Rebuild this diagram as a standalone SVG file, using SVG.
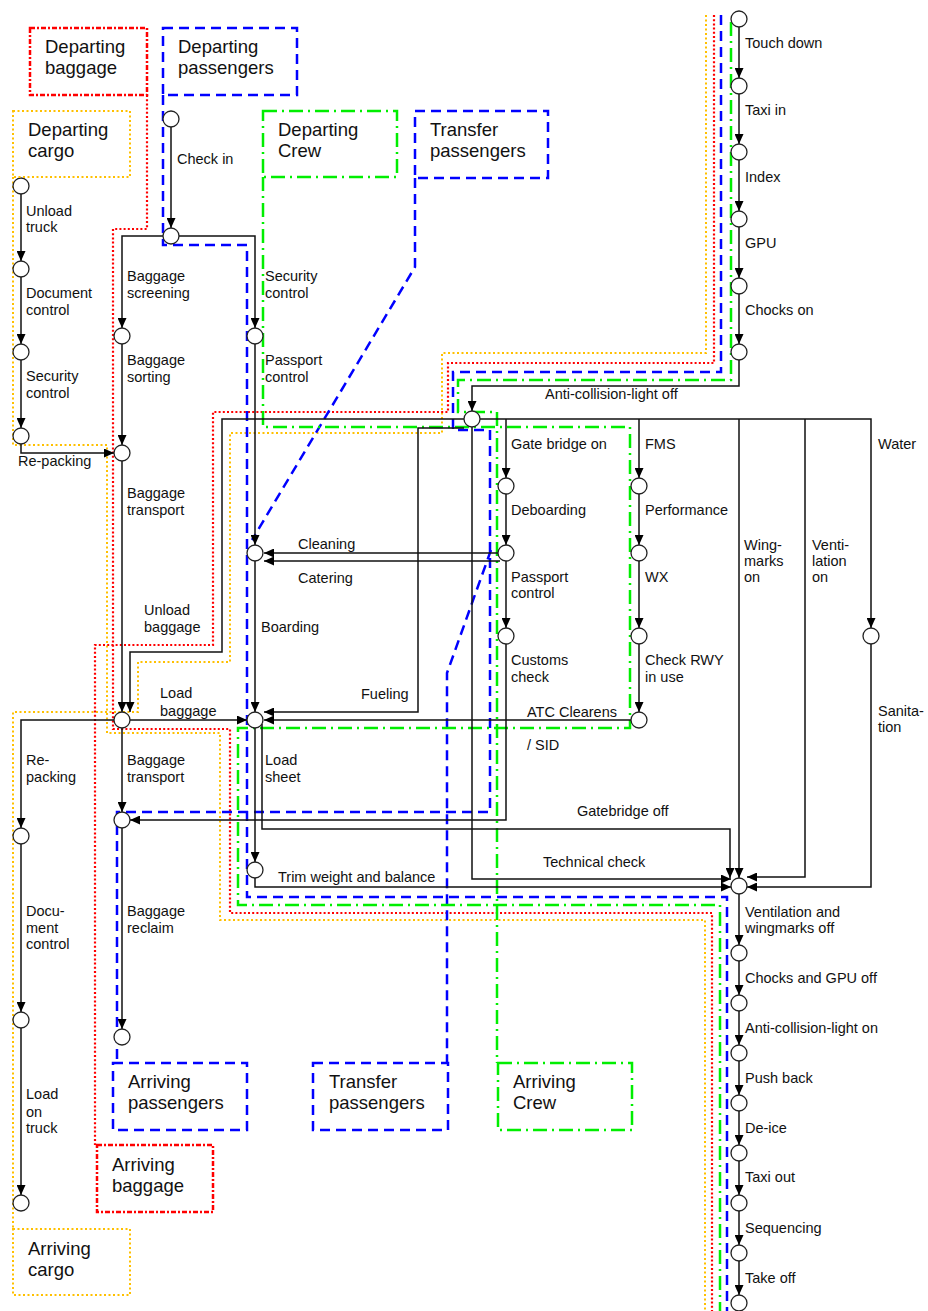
<svg xmlns="http://www.w3.org/2000/svg" width="928" height="1311" viewBox="0 0 928 1311">
<style>
.ln{fill:none;stroke:#111;stroke-width:1.5}
.lbl{font-family:"Liberation Sans",Arial,sans-serif;font-size:14.5px;fill:#111}
.bt{font-family:"Liberation Sans",Arial,sans-serif;font-size:18.5px;fill:#111}
.red{fill:none;stroke:#ff0000;stroke-width:2.2;stroke-dasharray:2 2.2}
.redbox{fill:none;stroke:#ff0000;stroke-width:2.5;stroke-dasharray:5 2 2 2}
.blue{fill:none;stroke:#0000ff;stroke-width:2.5;stroke-dasharray:10 6}
.green{fill:none;stroke:#00ee00;stroke-width:2.5;stroke-dasharray:14 5 2 5}
.orange{fill:none;stroke:#ffc000;stroke-width:2;stroke-dasharray:2 2.5}
.nd{fill:#fff;stroke:#222;stroke-width:1.3}
</style>
<defs>
<marker id="ah" viewBox="0 0 10 9" refX="10" refY="4.5" markerWidth="10" markerHeight="9" markerUnits="userSpaceOnUse" orient="auto"><path d="M0,0L10,4.5L0,9z" fill="#000"/></marker>
</defs>
<rect width="928" height="1311" fill="#fff"/>

<g id="lanes">
<path class="orange" d="M13,177 V445 H107 V733 H220 V920 H705 V1311"/>
<path class="orange" d="M706,15 V353 H442 V433 H230 V662 H138 V712 H13 V1229"/>
<path class="red" d="M147,95 V229 H113 V729 H230 V913 H712 V1311"/>
<path class="red" d="M714,15 V363 H448 V412 H213 V645 H95 V1145"/>
<path class="blue" d="M163,95 V245 H247 V897 H727 V1311"/>
<path class="blue" d="M721,15 V372 H453 V430 H490 V812 H117 V1063"/>
<path class="blue" d="M415,178 V267 L252,540"/>
<path class="blue" d="M491,550 L447,673 V1063"/>
<path class="green" d="M263,177 V427 H630 V728 H238 V905 H720 V1311"/>
<path class="green" d="M731,22 V380 H458 V412 H497 V1063"/>
</g>

<g id="connectors">
<path class="ln" marker-end="url(#ah)" d="M739,27 V78"/>
<path class="ln" marker-end="url(#ah)" d="M739,94 V144"/>
<path class="ln" marker-end="url(#ah)" d="M739,160 V211"/>
<path class="ln" marker-end="url(#ah)" d="M739,227 V278"/>
<path class="ln" marker-end="url(#ah)" d="M739,294 V344"/>
<path class="ln" marker-end="url(#ah)" d="M739,360 V386 H472 V411"/>
<path class="ln" marker-end="url(#ah)" d="M480,419 H871 V628"/>
<path class="ln" marker-end="url(#ah)" d="M506,419 V478"/>
<path class="ln" marker-end="url(#ah)" d="M639,419 V478"/>
<path class="ln" marker-end="url(#ah)" d="M739,419 V878"/>
<path class="ln" marker-end="url(#ah)" d="M805,419 V877 H747"/>
<path class="ln" marker-end="url(#ah)" d="M871,644 V887 H747"/>
<path class="ln" marker-end="url(#ah)" d="M506,494 V545"/>
<path class="ln" marker-end="url(#ah)" d="M506,561 V628"/>
<path class="ln" marker-end="url(#ah)" d="M498,553 H264"/>
<path class="ln" marker-end="url(#ah)" d="M500,561 H264"/>
<path class="ln" marker-end="url(#ah)" d="M506,644 V820 H130"/>
<path class="ln" marker-end="url(#ah)" d="M639,494 V545"/>
<path class="ln" marker-end="url(#ah)" d="M639,561 V628"/>
<path class="ln" marker-end="url(#ah)" d="M639,644 V712"/>
<path class="ln" marker-end="url(#ah)" d="M631,720 H264"/>
<path class="ln" marker-end="url(#ah)" d="M464,428 H418 V712 H264"/>
<path class="ln" marker-end="url(#ah)" d="M464,419 H222 V652 H130 V712"/>
<path class="ln" marker-end="url(#ah)" d="M472,427 V879 H731"/>
<path class="ln" marker-end="url(#ah)" d="M262,724 V829 H730 V878"/>
<path class="ln" marker-end="url(#ah)" d="M255,728 V862"/>
<path class="ln" marker-end="url(#ah)" d="M255,878 V887 H731"/>
<path class="ln" marker-end="url(#ah)" d="M130,720 H247"/>
<path class="ln" marker-end="url(#ah)" d="M114,720 H21 V828"/>
<path class="ln" marker-end="url(#ah)" d="M122,728 V812"/>
<path class="ln" marker-end="url(#ah)" d="M122,828 V1029"/>
<path class="ln" marker-end="url(#ah)" d="M21,844 V1012"/>
<path class="ln" marker-end="url(#ah)" d="M21,1028 V1195"/>
<path class="ln" marker-end="url(#ah)" d="M21,194 V261"/>
<path class="ln" marker-end="url(#ah)" d="M21,277 V344"/>
<path class="ln" marker-end="url(#ah)" d="M21,360 V428"/>
<path class="ln" marker-end="url(#ah)" d="M21,444 V453 H114"/>
<path class="ln" marker-end="url(#ah)" d="M122,344 V445"/>
<path class="ln" marker-end="url(#ah)" d="M122,461 V712"/>
<path class="ln" marker-end="url(#ah)" d="M171,127 V228"/>
<path class="ln" marker-end="url(#ah)" d="M163,236 H122 V328"/>
<path class="ln" marker-end="url(#ah)" d="M179,236 H255 V328"/>
<path class="ln" marker-end="url(#ah)" d="M255,344 V545"/>
<path class="ln" marker-end="url(#ah)" d="M255,561 V712"/>
<path class="ln" marker-end="url(#ah)" d="M739,894 V945"/>
<path class="ln" marker-end="url(#ah)" d="M739,961 V995"/>
<path class="ln" marker-end="url(#ah)" d="M739,1011 V1045"/>
<path class="ln" marker-end="url(#ah)" d="M739,1061 V1095"/>
<path class="ln" marker-end="url(#ah)" d="M739,1111 V1145"/>
<path class="ln" marker-end="url(#ah)" d="M739,1161 V1195"/>
<path class="ln" marker-end="url(#ah)" d="M739,1211 V1245"/>
<path class="ln" marker-end="url(#ah)" d="M739,1261 V1295"/>
</g>

<g id="nodes">
<g id="n-c1"><circle class="nd" cx="21" cy="186" r="8"/></g>
<g id="n-c2"><circle class="nd" cx="21" cy="269" r="8"/></g>
<g id="n-c3"><circle class="nd" cx="21" cy="352" r="8"/></g>
<g id="n-c4"><circle class="nd" cx="21" cy="436" r="8"/></g>
<g id="n-c5"><circle class="nd" cx="21" cy="836" r="8"/></g>
<g id="n-c6"><circle class="nd" cx="21" cy="1020" r="8"/></g>
<g id="n-c7"><circle class="nd" cx="21" cy="1203" r="8"/></g>
<g id="n-b1"><circle class="nd" cx="122" cy="336" r="8"/></g>
<g id="n-b2"><circle class="nd" cx="122" cy="453" r="8"/></g>
<g id="n-b3"><circle class="nd" cx="122" cy="720" r="8"/></g>
<g id="n-b4"><circle class="nd" cx="122" cy="820" r="8"/></g>
<g id="n-b5"><circle class="nd" cx="122" cy="1037" r="8"/></g>
<g id="n-p0"><circle class="nd" cx="171" cy="119" r="8"/></g>
<g id="n-p1"><circle class="nd" cx="171" cy="236" r="8"/></g>
<g id="n-p2"><circle class="nd" cx="255" cy="336" r="8"/></g>
<g id="n-p3"><circle class="nd" cx="255" cy="553" r="8"/></g>
<g id="n-p4"><circle class="nd" cx="255" cy="720" r="8"/></g>
<g id="n-p5"><circle class="nd" cx="255" cy="870" r="8"/></g>
<g id="n-r1"><circle class="nd" cx="739" cy="19" r="8"/></g>
<g id="n-r2"><circle class="nd" cx="739" cy="86" r="8"/></g>
<g id="n-r3"><circle class="nd" cx="739" cy="152" r="8"/></g>
<g id="n-r4"><circle class="nd" cx="739" cy="219" r="8"/></g>
<g id="n-r5"><circle class="nd" cx="739" cy="286" r="8"/></g>
<g id="n-r6"><circle class="nd" cx="739" cy="352" r="8"/></g>
<g id="n-hub"><circle class="nd" cx="472" cy="419" r="8"/></g>
<g id="n-g1"><circle class="nd" cx="506" cy="486" r="8"/></g>
<g id="n-g2"><circle class="nd" cx="506" cy="553" r="8"/></g>
<g id="n-g3"><circle class="nd" cx="506" cy="636" r="8"/></g>
<g id="n-f1"><circle class="nd" cx="639" cy="486" r="8"/></g>
<g id="n-f2"><circle class="nd" cx="639" cy="553" r="8"/></g>
<g id="n-f3"><circle class="nd" cx="639" cy="636" r="8"/></g>
<g id="n-f4"><circle class="nd" cx="639" cy="720" r="8"/></g>
<g id="n-w1"><circle class="nd" cx="871" cy="636" r="8"/></g>
<g id="n-final"><circle class="nd" cx="739" cy="886" r="8"/></g>
<g id="n-d1"><circle class="nd" cx="739" cy="953" r="8"/></g>
<g id="n-d2"><circle class="nd" cx="739" cy="1003" r="8"/></g>
<g id="n-d3"><circle class="nd" cx="739" cy="1053" r="8"/></g>
<g id="n-d4"><circle class="nd" cx="739" cy="1103" r="8"/></g>
<g id="n-d5"><circle class="nd" cx="739" cy="1153" r="8"/></g>
<g id="n-d6"><circle class="nd" cx="739" cy="1203" r="8"/></g>
<g id="n-d7"><circle class="nd" cx="739" cy="1253" r="8"/></g>
<g id="n-d8"><circle class="nd" cx="739" cy="1303" r="8"/></g>
</g>

<g id="boxes">
<g id="box-dep-baggage"><rect class="redbox" x="30" y="28" width="117" height="67"/><text class="bt" x="45" y="53">Departing</text><text class="bt" x="45" y="74">baggage</text></g>
<g id="box-dep-pax"><rect class="blue" x="163" y="28" width="134" height="67"/><text class="bt" x="178" y="53">Departing</text><text class="bt" x="178" y="74">passengers</text></g>
<g id="box-dep-cargo"><rect class="orange" x="13" y="111" width="117" height="66"/><text class="bt" x="28" y="136">Departing</text><text class="bt" x="28" y="157">cargo</text></g>
<g id="box-dep-crew"><rect class="green" x="263" y="111" width="134" height="66"/><text class="bt" x="278" y="136">Departing</text><text class="bt" x="278" y="157">Crew</text></g>
<g id="box-transfer-top"><rect class="blue" x="415" y="111" width="133" height="67"/><text class="bt" x="430" y="136">Transfer</text><text class="bt" x="430" y="157">passengers</text></g>
<g id="box-arr-pax"><rect class="blue" x="113" y="1063" width="134" height="67"/><text class="bt" x="128" y="1088">Arriving</text><text class="bt" x="128" y="1109">passengers</text></g>
<g id="box-transfer-bottom"><rect class="blue" x="313" y="1063" width="135" height="67"/><text class="bt" x="329" y="1088">Transfer</text><text class="bt" x="329" y="1109">passengers</text></g>
<g id="box-arr-crew"><rect class="green" x="498" y="1063" width="134" height="67"/><text class="bt" x="513" y="1088">Arriving</text><text class="bt" x="513" y="1109">Crew</text></g>
<g id="box-arr-baggage"><rect class="redbox" x="97" y="1145" width="116" height="67"/><text class="bt" x="112" y="1171">Arriving</text><text class="bt" x="112" y="1192">baggage</text></g>
<g id="box-arr-cargo"><rect class="orange" x="13" y="1229" width="117" height="66"/><text class="bt" x="28" y="1255">Arriving</text><text class="bt" x="28" y="1276">cargo</text></g>
</g>

<g id="labels" class="lbl">
<text class="lbl" x="26" y="216">Unload</text><text class="lbl" x="26" y="232">truck</text>
<text class="lbl" x="26" y="298">Document</text><text class="lbl" x="26" y="315">control</text>
<text class="lbl" x="26" y="381">Security</text><text class="lbl" x="26" y="398">control</text>
<text class="lbl" x="18" y="466">Re-packing</text>
<text class="lbl" x="26" y="765">Re-</text><text class="lbl" x="26" y="782">packing</text>
<text class="lbl" x="26" y="916">Docu-</text><text class="lbl" x="26" y="933">ment</text><text class="lbl" x="26" y="949">control</text>
<text class="lbl" x="26" y="1099">Load</text><text class="lbl" x="26" y="1117">on</text><text class="lbl" x="26" y="1133">truck</text>
<text class="lbl" x="177" y="164">Check in</text>
<text class="lbl" x="127" y="281">Baggage</text><text class="lbl" x="127" y="298">screening</text>
<text class="lbl" x="265" y="281">Security</text><text class="lbl" x="265" y="298">control</text>
<text class="lbl" x="127" y="365">Baggage</text><text class="lbl" x="127" y="382">sorting</text>
<text class="lbl" x="265" y="365">Passport</text><text class="lbl" x="265" y="382">control</text>
<text class="lbl" x="127" y="498">Baggage</text><text class="lbl" x="127" y="515">transport</text>
<text class="lbl" x="144" y="615">Unload</text><text class="lbl" x="144" y="632">baggage</text>
<text class="lbl" x="298" y="549">Cleaning</text>
<text class="lbl" x="298" y="583">Catering</text>
<text class="lbl" x="261" y="632">Boarding</text>
<text class="lbl" x="160" y="698">Load</text><text class="lbl" x="160" y="716">baggage</text>
<text class="lbl" x="361" y="699">Fueling</text>
<text class="lbl" x="265" y="765">Load</text><text class="lbl" x="265" y="782">sheet</text>
<text class="lbl" x="127" y="765">Baggage</text><text class="lbl" x="127" y="782">transport</text>
<text class="lbl" x="278" y="882">Trim weight and balance</text>
<text class="lbl" x="127" y="916">Baggage</text><text class="lbl" x="127" y="933">reclaim</text>
<text class="lbl" x="745" y="48">Touch down</text>
<text class="lbl" x="745" y="115">Taxi in</text>
<text class="lbl" x="745" y="182">Index</text>
<text class="lbl" x="745" y="248">GPU</text>
<text class="lbl" x="745" y="315">Chocks on</text>
<text class="lbl" x="545" y="399">Anti-collision-light off</text>
<text class="lbl" x="511" y="449">Gate bridge on</text>
<text class="lbl" x="645" y="449">FMS</text>
<text class="lbl" x="878" y="449">Water</text>
<text class="lbl" x="511" y="515">Deboarding</text>
<text class="lbl" x="645" y="515">Performance</text>
<text class="lbl" x="511" y="582">Passport</text><text class="lbl" x="511" y="598">control</text>
<text class="lbl" x="645" y="582">WX</text>
<text class="lbl" x="744" y="550">Wing-</text><text class="lbl" x="744" y="566">marks</text><text class="lbl" x="744" y="582">on</text>
<text class="lbl" x="812" y="550">Venti-</text><text class="lbl" x="812" y="566">lation</text><text class="lbl" x="812" y="582">on</text>
<text class="lbl" x="511" y="665">Customs</text><text class="lbl" x="511" y="682">check</text>
<text class="lbl" x="645" y="665">Check RWY</text><text class="lbl" x="645" y="682">in use</text>
<text class="lbl" x="878" y="716">Sanita-</text><text class="lbl" x="878" y="732">tion</text>
<text class="lbl" x="527" y="717">ATC Clearens</text>
<text class="lbl" x="527" y="750">/ SID</text>
<text class="lbl" x="577" y="816">Gatebridge off</text>
<text class="lbl" x="543" y="867">Technical check</text>
<text class="lbl" x="745" y="917">Ventilation and</text><text class="lbl" x="745" y="933">wingmarks off</text>
<text class="lbl" x="745" y="983">Chocks and GPU off</text>
<text class="lbl" x="745" y="1033">Anti-collision-light on</text>
<text class="lbl" x="745" y="1083">Push back</text>
<text class="lbl" x="745" y="1133">De-ice</text>
<text class="lbl" x="745" y="1182">Taxi out</text>
<text class="lbl" x="745" y="1233">Sequencing</text>
<text class="lbl" x="745" y="1283">Take off</text>
</g>
</svg>
